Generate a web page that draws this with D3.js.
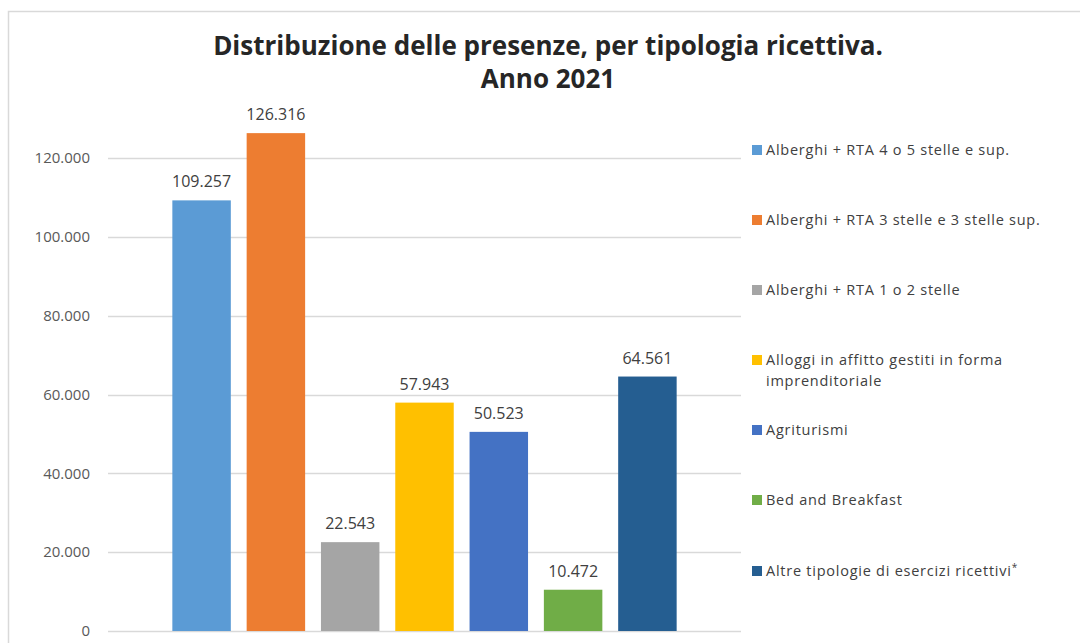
<!DOCTYPE html>
<html>
<head>
<meta charset="utf-8">
<script src="https://cdn.jsdelivr.net/npm/d3@7"></script>
<style>
  html, body { margin: 0; padding: 0; background: #fff; }
  svg { display: block; font-family: "Open Sans", sans-serif; }
</style>
</head>
<body>
<svg id="chart" width="1080" height="643"></svg>
<script>
const categories = [
  "Alberghi + RTA 4 o 5 stelle e sup.",
  "Alberghi + RTA 3 stelle e 3 stelle sup.",
  "Alberghi + RTA 1 o 2 stelle",
  "Alloggi in affitto gestiti in forma imprenditoriale",
  "Agriturismi",
  "Bed and Breakfast",
  "Altre tipologie di esercizi ricettivi*"
];
const legendLines = [
  ["Alberghi + RTA 4 o 5 stelle e sup."],
  ["Alberghi + RTA 3 stelle e 3 stelle sup."],
  ["Alberghi + RTA 1 o 2 stelle"],
  ["Alloggi in affitto gestiti in forma", "imprenditoriale"],
  ["Agriturismi"],
  ["Bed and Breakfast"],
  ["Altre tipologie di esercizi ricettivi*"]
];
const values = [109257, 126316, 22543, 57943, 50523, 10472, 64561];
const colors = ["#5B9BD5", "#ED7D31", "#A5A5A5", "#FFC000", "#4472C4", "#70AD47", "#255E91"];
const yTicks = [0, 20000, 40000, 60000, 80000, 100000, 120000];
const titleLines = ["Distribuzione delle presenze, per tipologia ricettiva.", "Anno 2021"];

const svg = d3.select("#chart");
const fmt = v => d3.format(",")(v).replace(/,/g, ".");

// chart border
svg.append("rect").attr("x", 8.5).attr("y", 11.5).attr("width", 1100).attr("height", 700)
  .attr("fill", "#fff").attr("stroke", "#d9d9d9").attr("stroke-width", 1.5);

const x = d3.scaleBand().domain(categories).range([108, 741]).paddingInner(0.213).paddingOuter(0.866);
const y = d3.scaleLinear().domain([0, 140000]).range([631, 79.2]);

// gridlines
svg.append("g").selectAll("line").data(yTicks).join("line")
  .attr("x1", 108).attr("x2", 741)
  .attr("y1", d => Math.round(y(d)) + 0.5).attr("y2", d => Math.round(y(d)) + 0.5)
  .attr("stroke", "#d9d9d9").attr("stroke-width", 1.3);

// y-axis labels
const yAxis = d3.axisLeft(y).tickValues(yTicks).tickFormat(fmt).tickSize(0).tickPadding(0);
const ga = svg.append("g").attr("transform", "translate(90,0)").call(yAxis);
ga.select(".domain").remove();
ga.selectAll("text").attr("fill", "#595959").style("font-size", "15px")
  .style("font-family", "'Open Sans', sans-serif");

// bars
svg.append("g").selectAll("rect").data(values).join("rect")
  .attr("x", (d, i) => x(categories[i]))
  .attr("width", x.bandwidth())
  .attr("y", d => y(d))
  .attr("height", d => y(0) - y(d))
  .attr("fill", (d, i) => colors[i]);

// value labels
svg.append("g").selectAll("text").data(values).join("text")
  .attr("x", (d, i) => x(categories[i]) + x.bandwidth() / 2)
  .attr("y", d => y(d) - 13)
  .attr("text-anchor", "middle")
  .attr("fill", "#404040")
  .style("font-size", "16px")
  .text(d => fmt(d));

// title
svg.append("g").selectAll("text").data(titleLines).join("text")
  .attr("x", 548)
  .attr("y", (d, i) => 55 + i * 33)
  .attr("text-anchor", "middle")
  .attr("fill", "#262626")
  .style("font-size", "26px")
  .style("font-weight", "bold")
  .text(d => d);

// legend
const legendY = [150, 220, 290, 360, 430, 500, 571];
const lg = svg.append("g").selectAll("g").data(legendLines).join("g")
  .attr("transform", (d, i) => `translate(752,${legendY[i]})`);
lg.append("rect").attr("x", 0).attr("y", -5).attr("width", 10).attr("height", 10)
  .attr("fill", (d, i) => colors[i]);
lg.each(function(lines) {
  const t = d3.select(this).append("text").attr("fill", "#404040")
    .style("font-size", "14.5px").style("letter-spacing", "0.75px");
  lines.forEach((ln, j) => {
    if (ln.endsWith("*")) {
      t.append("tspan").attr("x", 14).attr("y", 5 + j * 21).text(ln.slice(0, -1));
      t.append("tspan").attr("dy", -5).style("font-size", "10px").text("*");
    } else {
      t.append("tspan").attr("x", 14).attr("y", 5 + j * 21).text(ln);
    }
  });
});
</script>
</body>
</html>
